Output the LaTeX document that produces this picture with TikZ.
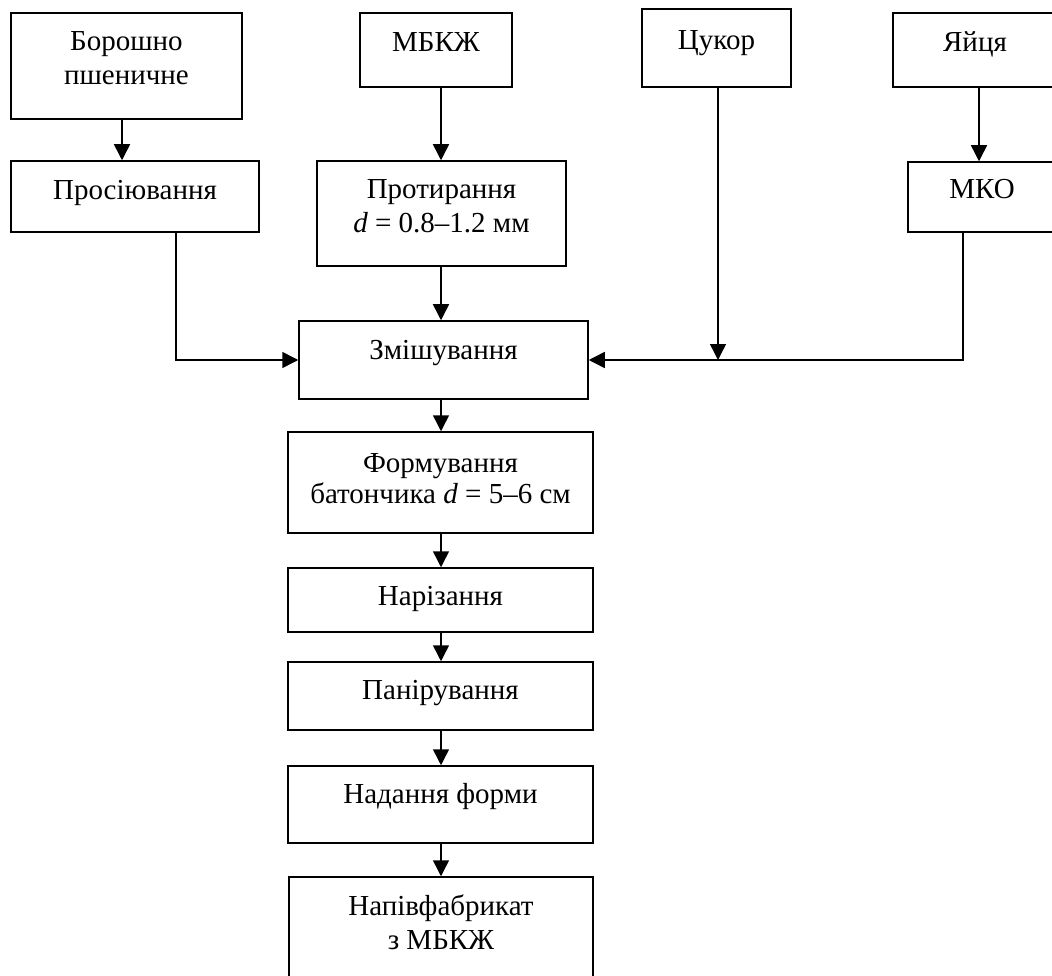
\documentclass[tikz,border=0pt]{standalone}
\usepackage{fontspec}
\setmainfont{Liberation Serif}
\usetikzlibrary{arrows.meta}
\begin{document}
\begin{tikzpicture}[x=1pt,y=-1pt,
  box/.style={draw=black,line width=1.5pt,inner sep=0pt,rectangle},
  txt/.style={anchor=base,inner sep=0pt,font=\fontsize{29}{34}\selectfont},
  arr/.style={line width=1.5pt,-{Triangle[width=16pt,length=16pt]}},
  ln/.style={line width=1.5pt}]
\useasboundingbox (0,0) rectangle (1052,976);
\fill[white] (0,0) rectangle (1052,976);
\clip (0,0) rectangle (1052,976);
% boxes
\node[box,minimum width=231pt,minimum height=106pt] (borosh) at (126.5,66) {};
\node[box,minimum width=152pt,minimum height=74pt] (mbkzh) at (436,50) {};
\node[box,minimum width=149pt,minimum height=78pt] (tsukor) at (716.5,48) {};
\node[box,minimum width=164pt,minimum height=74pt] (yaytsia) at (975,50) {};
\node[box,minimum width=248pt,minimum height=71pt] (proseiuv) at (135,196.5) {};
\node[box,minimum width=249pt,minimum height=105pt] (protyr) at (441.5,213.5) {};
\node[box,minimum width=148pt,minimum height=70pt] (mko) at (982,197) {};
\node[box,minimum width=289pt,minimum height=78pt] (zmish) at (443.5,360) {};
\node[box,minimum width=305pt,minimum height=101pt] (form) at (440.5,482.5) {};
\node[box,minimum width=305pt,minimum height=64pt] (nariz) at (440.5,600) {};
\node[box,minimum width=305pt,minimum height=68pt] (panir) at (440.5,696) {};
\node[box,minimum width=305pt,minimum height=77pt] (nadan) at (440.5,804.5) {};
\node[box,minimum width=304pt,minimum height=120pt] (napiv) at (441,937) {};
% texts
\node[txt] (t1a) at (126.5,51) {Борошно};
\node[txt] (t1b) at (126.5,85) {пшеничне};
\node[txt] (t2) at (436,52) {МБКЖ};
\node[txt] (t3) at (716.5,50) {Цукор};
\node[txt] (t4) at (975,52) {Яйця};
\node[txt] (t5) at (135,200) {Просіювання};
\node[txt] (t6a) at (441.5,199) {Протирання};
\node[txt] (t6b) at (441.5,233) {\textit{d} = 0.8–1.2 мм};
\node[txt] (t7) at (982,199) {МКО};
\node[txt] (t8) at (443.5,359) {Змішування};
\node[txt] (t9a) at (440.5,472) {Формування};
\node[txt] (t9b) at (440.5,503) {батончика \textit{d} = 5–6 см};
\node[txt] (t10) at (440.5,605) {Нарізання};
\node[txt] (t11) at (440.5,699) {Панірування};
\node[txt] (t12) at (440.5,803) {Надання форми};
\node[txt] (t13a) at (441,915) {Напівфабрикат};
\node[txt] (t13b) at (441,949) {з МБКЖ};
% guide coordinates
\coordinate (xa) at (122,0);
\coordinate (xb) at (441,0);
\coordinate (xc) at (176,0);
\coordinate (xd) at (718,0);
\coordinate (xe) at (963,0);
\coordinate (xf) at (979,0);
% connectors
\draw[arr] (borosh.south -| xa) -- (proseiuv.north -| xa);
\draw[arr] (mbkzh.south -| xb) -- (protyr.north -| xb);
\draw[arr] (protyr.south -| xb) -- (zmish.north -| xb);
\draw[arr] (proseiuv.south -| xc) |- (zmish.west);
\draw[arr] (mko.south -| xe) |- (zmish.east);
\draw[arr] (tsukor.south -| xd) -- (zmish.east -| xd);
\draw[arr] (yaytsia.south -| xf) -- (mko.north -| xf);
\draw[arr] (zmish.south -| xb) -- (form.north -| xb);
\draw[arr] (form.south -| xb) -- (nariz.north -| xb);
\draw[arr] (nariz.south -| xb) -- (panir.north -| xb);
\draw[arr] (panir.south -| xb) -- (nadan.north -| xb);
\draw[arr] (nadan.south -| xb) -- (napiv.north -| xb);
\end{tikzpicture}
\end{document}
